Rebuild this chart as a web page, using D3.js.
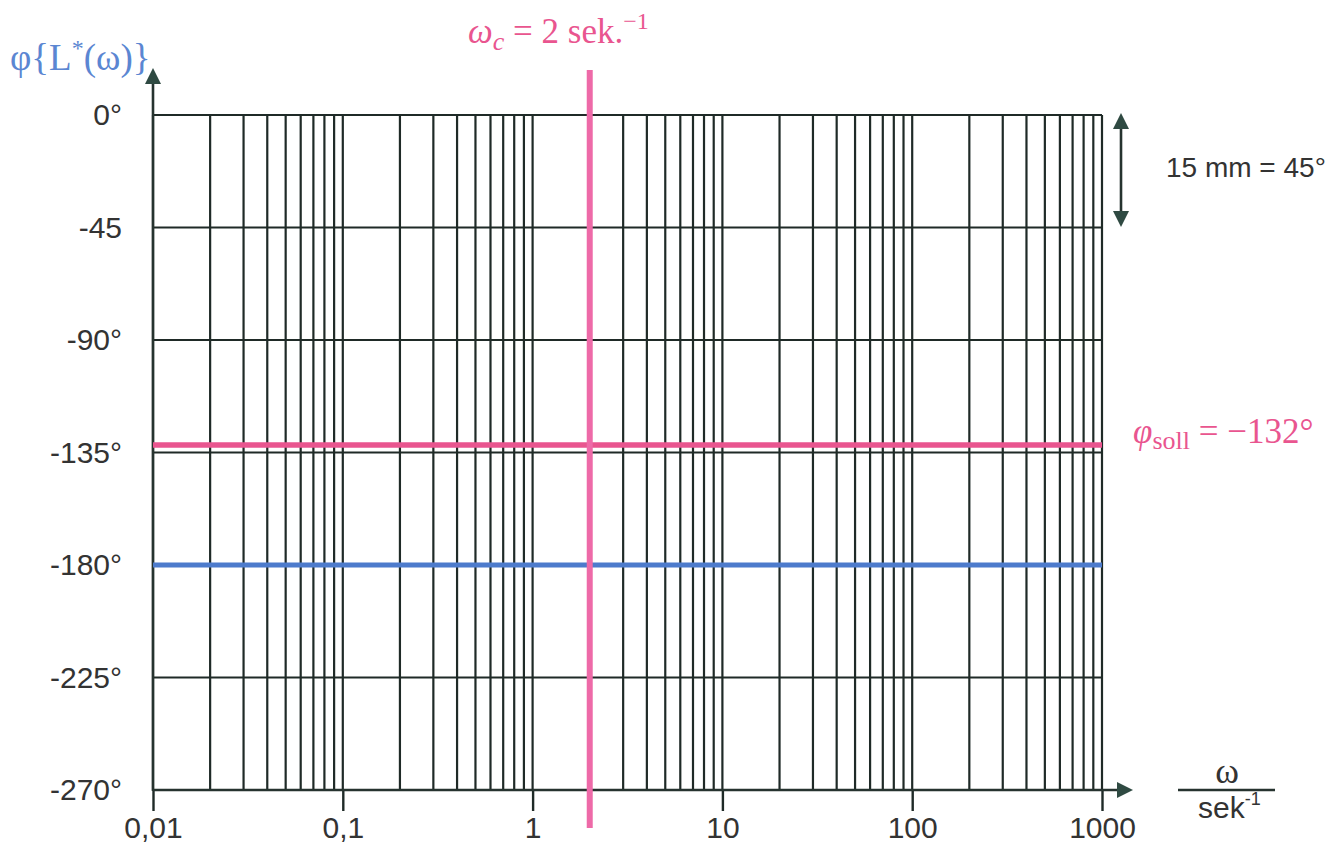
<!DOCTYPE html>
<html>
<head>
<meta charset="utf-8">
<script src="https://cdn.jsdelivr.net/npm/d3@7"></script>
<style>
  html, body { margin: 0; padding: 0; background: #fff; }
  svg { display: block; }
</style>
</head>
<body>
<svg id="chart" width="1335" height="854"></svg>
<script>
// ---- data ----
const xDomain = [0.01, 1000];
const yDomain = [-270, 0];
const decadeTicks = [0.01, 0.1, 1, 10, 100, 1000];
const decadeLabels = ["0,01", "0,1", "1", "10", "100", "1000"];
const phaseTicks = [0, -45, -90, -135, -180, -225, -270];
const phaseLabels = ["0°", "-45", "-90°", "-135°", "-180°", "-225°", "-270°"];
const omegaC = 2;          // crossover frequency, sek^-1
const phiSoll = -132;      // required phase, degrees
const phiCritical = -180;  // critical phase, degrees

(function () {
// ---- layout ----
const svg = d3.select("#chart");
const mLeft = 153, mRight = 1102, mTop = 115, mBottom = 790;
const x = d3.scaleLog().domain(xDomain).range([mLeft, mRight]);
const y = d3.scaleLinear().domain(yDomain).range([mBottom, mTop]);

const gridColor = "#1f2a27";
const pinkH = "#e9558f";
const pinkV = "#ee6aa8";
const blue = "#4d7bcc";
const textColor = "#333333";
const sans = "'Liberation Sans', Arial, sans-serif";
const serif = "'Liberation Serif', 'DejaVu Serif', serif";

// minor grid values: 1..9 x each decade
const gridX = [];
for (let d = 0; d < decadeTicks.length - 1; d++) {
  for (let k = 1; k <= 9; k++) gridX.push(decadeTicks[d] * k);
}
gridX.push(xDomain[1]);

const g = svg.append("g");

// vertical grid lines
g.selectAll("line.vgrid").data(gridX).enter().append("line")
  .attr("x1", d => x(d)).attr("x2", d => x(d))
  .attr("y1", y(0)).attr("y2", y(-270))
  .attr("stroke", gridColor).attr("stroke-width", 2.2);

// horizontal grid lines
g.selectAll("line.hgrid").data(phaseTicks).enter().append("line")
  .attr("x1", mLeft).attr("x2", mRight)
  .attr("y1", d => y(d)).attr("y2", d => y(d))
  .attr("stroke", gridColor).attr("stroke-width", 2.2);

// x axis via d3
const xAxis = d3.axisBottom(x)
  .tickValues(decadeTicks)
  .tickFormat((d, i) => decadeLabels[i])
  .tickSize(21)
  .tickPadding(4);
const xa = svg.append("g").attr("transform", `translate(0,${mBottom})`).call(xAxis);
xa.select(".domain").remove();
xa.selectAll(".tick line").attr("stroke", gridColor).attr("stroke-width", 2.4);
xa.selectAll(".tick text")
  .attr("fill", textColor)
  .style("font-family", sans)
  .style("font-size", "30px")
  .attr("dy", "0.78em");

// y axis labels via d3
const yAxis = d3.axisLeft(y)
  .tickValues(phaseTicks)
  .tickFormat((d, i) => phaseLabels[i])
  .tickSize(0)
  .tickPadding(31);
const ya = svg.append("g").attr("transform", `translate(${mLeft},0)`).call(yAxis);
ya.select(".domain").remove();
ya.selectAll(".tick text")
  .attr("fill", textColor)
  .style("font-family", sans)
  .style("font-size", "30px");

// axis lines with arrows
svg.append("line").attr("x1", mLeft).attr("x2", mLeft).attr("y1", mBottom + 1).attr("y2", 82)
  .attr("stroke", "#26332f").attr("stroke-width", 2.6);
svg.append("path").attr("d", `M${mLeft},68 L${mLeft - 8},84 L${mLeft + 8},84 Z`).attr("fill", "#2f4a42");

svg.append("line").attr("x1", mLeft).attr("x2", 1119).attr("y1", mBottom).attr("y2", mBottom)
  .attr("stroke", "#26332f").attr("stroke-width", 2.6);
svg.append("path").attr("d", `M1133,${mBottom} L1117,${mBottom - 8} L1117,${mBottom + 8} Z`).attr("fill", "#2f4a42");

// reference lines
svg.append("line")
  .attr("x1", mLeft).attr("x2", mRight)
  .attr("y1", y(phiCritical)).attr("y2", y(phiCritical))
  .attr("stroke", blue).attr("stroke-width", 5);
svg.append("line")
  .attr("x1", mLeft).attr("x2", mRight)
  .attr("y1", y(phiSoll)).attr("y2", y(phiSoll))
  .attr("stroke", pinkH).attr("stroke-width", 5.5);
svg.append("line")
  .attr("x1", x(omegaC)).attr("x2", x(omegaC))
  .attr("y1", 70).attr("y2", 828)
  .attr("stroke", pinkV).attr("stroke-width", 6);

// y axis title
svg.append("text")
  .attr("x", 10).attr("y", 70)
  .attr("fill", "#5b86d2")
  .style("font-family", serif)
  .style("font-size", "37px")
  .html('φ{L<tspan dy="-14" font-size="24px">*</tspan><tspan dy="14">(ω)}</tspan>');

// omega_c label
const wc = svg.append("text")
  .attr("x", 468).attr("y", 43)
  .attr("fill", pinkH)
  .style("font-family", serif)
  .style("font-size", "35px");
wc.append("tspan").attr("font-style", "italic").text("ω");
wc.append("tspan").attr("font-style", "italic").attr("font-size", "26px").attr("dy", 7).text("c");
wc.append("tspan").attr("dy", -7).text(" = 2 sek.");
wc.append("tspan").attr("font-size", "24px").attr("dy", -14).text("−1");

// phi_soll label
const ps = svg.append("text")
  .attr("x", 1133).attr("y", 443)
  .attr("fill", pinkH)
  .style("font-family", serif)
  .style("font-size", "35px");
ps.append("tspan").attr("font-style", "italic").text("φ");
ps.append("tspan").attr("font-size", "26px").attr("dy", 6).text("soll");
ps.append("tspan").attr("dy", -6).text(" = −132°");

// scale arrow
svg.append("line").attr("x1", 1121).attr("x2", 1121).attr("y1", 125).attr("y2", 215)
  .attr("stroke", "#26332f").attr("stroke-width", 2.6);
svg.append("path").attr("d", "M1121,113 L1113,129 L1129,129 Z").attr("fill", "#2f4a42");
svg.append("path").attr("d", "M1121,227 L1113,211 L1129,211 Z").attr("fill", "#2f4a42");
svg.append("text")
  .attr("x", 1166).attr("y", 177)
  .attr("fill", textColor)
  .style("font-family", sans)
  .style("font-size", "28px")
  .text("15 mm = 45°");

// omega / sek^-1 fraction
svg.append("text")
  .attr("x", 1227).attr("y", 783)
  .attr("text-anchor", "middle")
  .attr("fill", textColor)
  .style("font-family", serif)
  .style("font-size", "36px")
  .text("ω");
svg.append("line").attr("x1", 1178).attr("x2", 1275).attr("y1", 790).attr("y2", 790)
  .attr("stroke", "#26332f").attr("stroke-width", 2.4);
const sk = svg.append("text")
  .attr("x", 1198).attr("y", 818)
  .attr("fill", textColor)
  .style("font-family", sans)
  .style("font-size", "30px");
sk.append("tspan").text("sek");
sk.append("tspan").attr("font-size", "18px").attr("dy", -13).text("-1");
})();
</script>
</body>
</html>
